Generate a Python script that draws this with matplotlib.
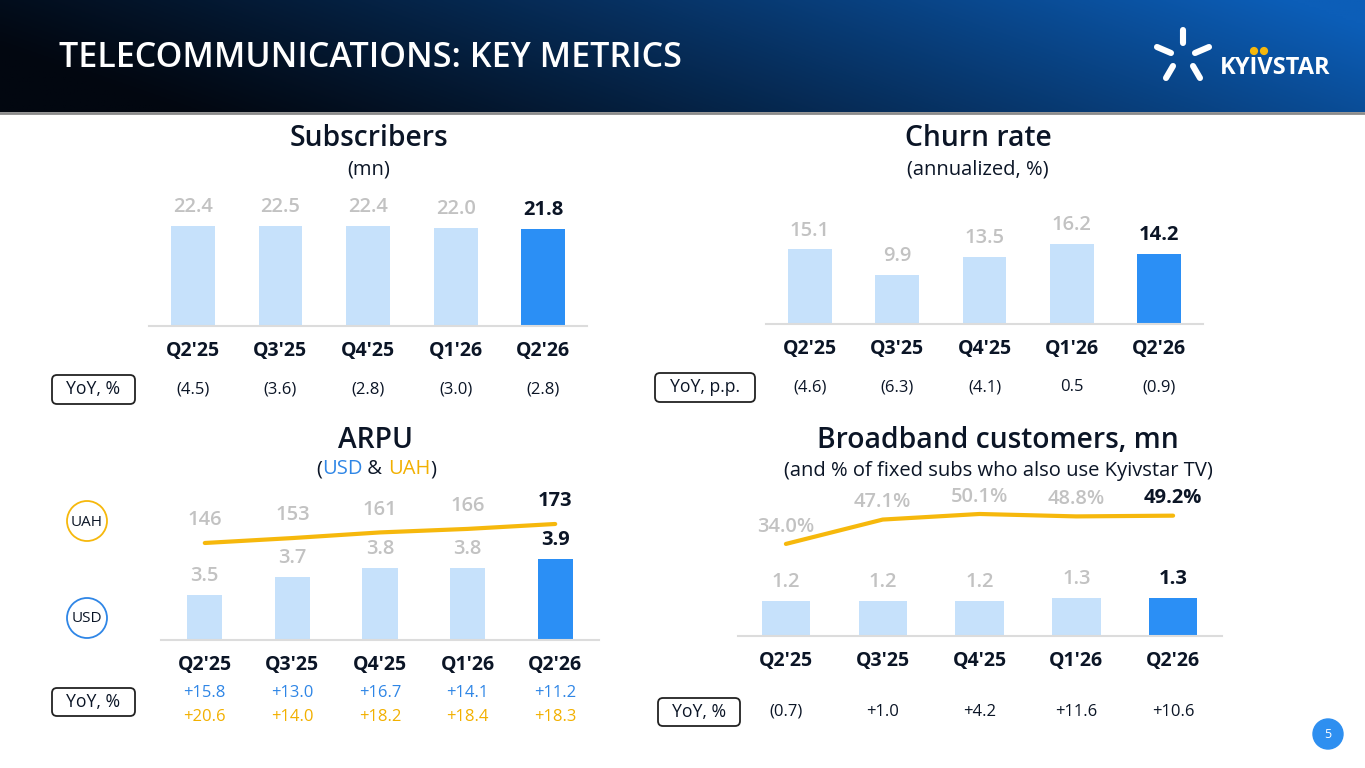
import matplotlib
matplotlib.use("Agg")
import matplotlib.pyplot as plt
import numpy as np
from matplotlib.patches import FancyBboxPatch, Circle
from matplotlib.transforms import blended_transform_factory

plt.rcParams['font.family'] = ['Open Sans', 'DejaVu Sans']

# ---- data ----
quarters = ["Q2'25", "Q3'25", "Q4'25", "Q1'26", "Q2'26"]
subs = [22.4, 22.5, 22.4, 22.0, 21.8]
subs_yoy = ["(4.5)", "(3.6)", "(2.8)", "(3.0)", "(2.8)"]
churn = [15.1, 9.9, 13.5, 16.2, 14.2]
churn_yoy = ["(4.6)", "(6.3)", "(4.1)", "0.5", "(0.9)"]
arpu_usd = [3.5, 3.7, 3.8, 3.8, 3.9]
arpu_uah = [146, 153, 161, 166, 173]
arpu_usd_yoy = ["+15.8", "+13.0", "+16.7", "+14.1", "+11.2"]
arpu_uah_yoy = ["+20.6", "+14.0", "+18.2", "+18.4", "+18.3"]
bb_cust = [1.2, 1.2, 1.2, 1.3, 1.3]
bb_tv_share = [34.0, 47.1, 50.1, 48.8, 49.2]
bb_yoy = ["(0.7)", "+1.0", "+4.2", "+11.6", "+10.6"]

# ---- style ----
LIGHT = "#c6e1fb"
DARK = "#2b8ff5"
TXT = "#0b1526"
GRAY = "#c2c2c2"
GOLD = "#f6b80c"
BLUE_T = "#2f86e6"
GOLD_T = "#f2b000"
BASE = "#dcdcdc"

W, H = 1365, 768
fig = plt.figure(figsize=(W / 100, H / 100), dpi=100)
fig.patch.set_facecolor("white")

# background axes in pixel coordinates
bg = fig.add_axes([0, 0, 1, 1])
bg.set_xlim(0, W)
bg.set_ylim(H, 0)
bg.axis("off")

# header gradient
gx = np.linspace(0, 1, 400)[None, :]
gy = np.linspace(0, 1, 60)[:, None]
t = np.clip(0.95 * gx + 0.22 * (1 - gy) - 0.12, 0, 1) ** 1.15
c0 = np.array([2, 7, 16]) / 255
c1 = np.array([12, 94, 184]) / 255
grad = c0 + (c1 - c0) * t[..., None]
bg.imshow(grad, extent=(0, W, 112, 0), aspect="auto", zorder=0)
bg.plot([0, W], [113, 113], color="#8a8a8a", lw=2, zorder=1)
bg.set_xlim(0, W)
bg.set_ylim(H, 0)
bg.text(59, 58, "TELECOMMUNICATIONS: KEY METRICS", color="white", fontsize=24.5,
        fontweight="semibold", ha="left", va="center")

# logo
for (x0, y0, x1, y1) in [(1183, 30, 1183, 43), (1157, 47, 1171, 53), (1195, 53, 1209, 47),
                         (1166, 78, 1173, 66), (1193, 66, 1200, 78)]:
    bg.plot([x0, x1], [y0, y1], color="white", lw=4.4, solid_capstyle="round")
bg.text(1220, 68, "KYIVSTAR", color="white", fontsize=17, fontweight="bold",
        ha="left", va="center")
bg.add_patch(Circle((1254, 51), 3.4, color=GOLD))
bg.add_patch(Circle((1264, 51), 3.4, color=GOLD))

# page number
bg.add_patch(Circle((1328, 734), 15, color="#2e8ff0"))
bg.text(1328, 735, "5", color="white", fontsize=9, ha="center", va="center")


def px_axes(left, top, right, bottom):
    return fig.add_axes([left / W, 1 - bottom / H, (right - left) / W, (bottom - top) / H])


def clean(ax):
    for s in ["top", "right", "left"]:
        ax.spines[s].set_visible(False)
    ax.set_yticks([])
    ax.patch.set_alpha(0)


def bar_panel(left, right, top, base, vals, ylim, width=0.5, pad=11):
    ax = px_axes(left, top, right, base)
    n = len(vals)
    x = np.arange(n)
    ax.bar(x, vals, width=width, color=[LIGHT] * (n - 1) + [DARK], zorder=2)
    ax.set_xlim(-0.5, n - 0.5)
    ax.set_ylim(*ylim)
    clean(ax)
    ax.spines["bottom"].set_color(BASE)
    ax.spines["bottom"].set_linewidth(1.5)
    ax.set_xticks(x, quarters, fontsize=14, fontweight="bold", color=TXT)
    ax.tick_params(axis="x", length=0, pad=pad)
    for i, v in enumerate(vals):
        last = i == n - 1
        ax.annotate(f"{v:.1f}", (i, v), xytext=(0, 13.5), textcoords="offset points",
                    ha="center", va="center", fontsize=14.5,
                    color=TXT if last else GRAY,
                    fontweight="bold" if last else "semibold")
    return ax


def yoy_box(x0, x1, y0, y1, label):
    bg.add_patch(FancyBboxPatch((x0, y0), x1 - x0, y1 - y0,
                                boxstyle="round,pad=0,rounding_size=5",
                                fc="white", ec="#222222", lw=1.3))
    bg.text((x0 + x1) / 2, (y0 + y1) / 2, label, fontsize=12.7, color=TXT,
            ha="center", va="center")


def yoy_row(ax, labels, y, color=TXT):
    tr = blended_transform_factory(ax.transData, bg.transData)
    for i, s in enumerate(labels):
        bg.text(i, y, s, transform=tr, ha="center", va="center", fontsize=12, color=color)


def title(x, y, main, sub):
    bg.text(x, y, main, fontsize=20.3, fontweight="semibold", color=TXT,
            ha="center", va="center")
    if sub:
        bg.text(x, y + 31, sub, fontsize=14.5, color=TXT, ha="center", va="center")


# ---- Subscribers ----
title(369, 139, "Subscribers", "(mn)")
ax1 = bar_panel(149, 587, 190, 326, subs, (0, 136 / 4.46))
yoy_box(52, 135, 375, 404, "YoY, %")
yoy_row(ax1, subs_yoy, 389)

# ---- Churn ----
title(978, 139, "Churn rate", "(annualized, %)")
ax2 = bar_panel(766, 1203, 190, 324, churn, (0, 134 / 4.95))
yoy_box(655, 755, 373, 402, "YoY, p.p.")
yoy_row(ax2, churn_yoy, 387)

# ---- ARPU ----
title(376, 440, "ARPU", None)
# coloured subtitle
parts = [("(", TXT), ("USD", BLUE_T), (" & ", TXT), ("UAH", GOLD_T), (")", TXT)]
r = fig.canvas.get_renderer()
objs = []
for s, c in parts:
    objs.append(bg.text(0, 469, s, fontsize=14.5, color=c, ha="left", va="center"))
widths = [o.get_window_extent(r).width for o in objs]
xpos = 376 - sum(widths) / 2
for o, w_ in zip(objs, widths):
    o.set_x(xpos)
    xpos += w_

ax3 = bar_panel(161, 599, 480, 640, arpu_usd, (3.0, 3.0 + 160 / 90), width=0.4)
ax3b = ax3.twinx()
ax3b.plot(np.arange(5), arpu_uah, color=GOLD, lw=3, solid_capstyle="round", zorder=3)
ax3b.set_ylim(8.2, 8.2 + 160 / 0.704)
for s in ax3b.spines.values():
    s.set_visible(False)
ax3b.set_yticks([])
for i, v in enumerate(arpu_uah):
    last = i == 4
    ax3b.annotate(str(v), (i, v), xytext=(0, 16.5), textcoords="offset points",
                  ha="center", va="center", fontsize=14.5,
                  color=TXT if last else GRAY, fontweight="bold" if last else "semibold")
bg.add_patch(Circle((87, 521), 20, fc="white", ec=GOLD, lw=1.3))
bg.text(87, 522, "UAH", fontsize=11, color=TXT, ha="center", va="center")
bg.add_patch(Circle((87, 618), 20, fc="white", ec=BLUE_T, lw=1.3))
bg.text(87, 619, "USD", fontsize=11, color=TXT, ha="center", va="center")
yoy_box(52, 135, 688, 716, "YoY, %")
yoy_row(ax3, arpu_usd_yoy, 693, BLUE_T)
yoy_row(ax3, arpu_uah_yoy, 717, GOLD_T)

# ---- Broadband ----
title(998, 440, "Broadband customers, mn", "(and % of fixed subs who also use Kyivstar TV)")
ax4 = bar_panel(737.5, 1221.5, 480, 636, bb_cust, (0, 156 / 29.5))
ax4b = ax4.twinx()
ax4b.plot(np.arange(5), bb_tv_share, color=GOLD, lw=3, solid_capstyle="round", zorder=3)
ax4b.set_ylim(-15.5, -15.5 + 156 / 1.86)
for s in ax4b.spines.values():
    s.set_visible(False)
ax4b.set_yticks([])
for i, v in enumerate(bb_tv_share):
    last = i == 4
    ax4b.annotate(f"{v:.1f}%", (i, v), xytext=(0, 12.5), textcoords="offset points",
                  ha="center", va="center", fontsize=14.5,
                  color=TXT if last else GRAY, fontweight="bold" if last else "semibold")
yoy_box(658, 740, 698, 726, "YoY, %")
yoy_row(ax4, bb_yoy, 712)

fig.savefig("out.png", dpi=100)
